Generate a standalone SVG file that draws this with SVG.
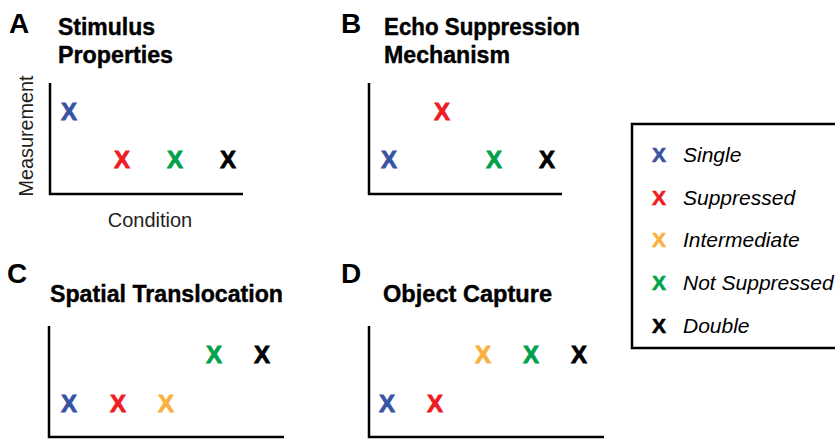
<svg xmlns="http://www.w3.org/2000/svg" width="835" height="439" viewBox="0 0 835 439">
<style>
.lbl{font-family:"Liberation Sans",Arial,sans-serif;font-weight:bold;font-size:28px;fill:#000}
.ttl{font-family:"Liberation Sans",Arial,sans-serif;font-weight:bold;font-size:23px;fill:#000;stroke:#000;stroke-width:0.4}
.ax{font-family:"Liberation Sans",Arial,sans-serif;font-size:20px;fill:#231f20}
.x{font-family:"Liberation Sans",Arial,sans-serif;font-weight:bold;font-size:24px;text-anchor:middle;stroke-width:0.8}
.lx{font-family:"Liberation Sans",Arial,sans-serif;font-weight:bold;font-size:21px;text-anchor:middle;stroke-width:0.6}
.li{font-family:"Liberation Sans",Arial,sans-serif;font-style:italic;font-size:21px;fill:#000}
.axis{fill:none;stroke:#000;stroke-width:2.5}
.b{fill:#3953a4;stroke:#3953a4}.r{fill:#ed1c24;stroke:#ed1c24}.o{fill:#fbb040;stroke:#fbb040}.g{fill:#00a14b;stroke:#00a14b}.k{fill:#000;stroke:#000}
</style>
<rect width="835" height="439" fill="#fff"/>
<g id="panelA">
<text class="lbl" x="9" y="33">A</text>
<text class="ttl" x="58" y="35" textLength="97" lengthAdjust="spacingAndGlyphs">Stimulus</text>
<text class="ttl" x="58" y="63" textLength="115" lengthAdjust="spacingAndGlyphs">Properties</text>
<path class="axis" d="M50,83 V194 H243"/>
<text class="ax" transform="translate(33,136) rotate(-90)" text-anchor="middle" textLength="121" lengthAdjust="spacingAndGlyphs">Measurement</text>
<text class="ax" x="150" y="227" text-anchor="middle">Condition</text>
<text class="x b" x="69" y="120">X</text>
<text class="x r" x="122" y="168">X</text>
<text class="x g" x="175" y="168">X</text>
<text class="x k" x="228" y="168">X</text>
</g>
<g id="panelB">
<text class="lbl" x="341" y="33">B</text>
<text class="ttl" x="384" y="35" textLength="196" lengthAdjust="spacingAndGlyphs">Echo Suppression</text>
<text class="ttl" x="384" y="63" textLength="126" lengthAdjust="spacingAndGlyphs">Mechanism</text>
<path class="axis" d="M369,83 V194 H562"/>
<text class="x b" x="389" y="168">X</text>
<text class="x r" x="442" y="120">X</text>
<text class="x g" x="494" y="168">X</text>
<text class="x k" x="547" y="168">X</text>
</g>
<g id="panelC">
<text class="lbl" x="7" y="283">C</text>
<text class="ttl" x="50" y="302" textLength="233" lengthAdjust="spacingAndGlyphs">Spatial Translocation</text>
<path class="axis" d="M49,326 V437 H284"/>
<text class="x b" x="69" y="412">X</text>
<text class="x r" x="118" y="412">X</text>
<text class="x o" x="166" y="412">X</text>
<text class="x g" x="214" y="363">X</text>
<text class="x k" x="262" y="363">X</text>
</g>
<g id="panelD">
<text class="lbl" x="341" y="283">D</text>
<text class="ttl" x="383" y="302" textLength="169" lengthAdjust="spacingAndGlyphs">Object Capture</text>
<path class="axis" d="M369,326 V437 H604"/>
<text class="x b" x="387" y="412">X</text>
<text class="x r" x="435" y="412">X</text>
<text class="x o" x="483" y="363">X</text>
<text class="x g" x="531" y="363">X</text>
<text class="x k" x="579" y="363">X</text>
</g>
<g id="legend">
<rect x="632" y="124" width="230" height="224" fill="none" stroke="#000" stroke-width="2.5"/>
<text class="lx b" x="659" y="162">X</text><text class="li" x="683" y="162">Single</text>
<text class="lx r" x="659" y="205">X</text><text class="li" x="683" y="205">Suppressed</text>
<text class="lx o" x="659" y="247">X</text><text class="li" x="683" y="247">Intermediate</text>
<text class="lx g" x="659" y="290">X</text><text class="li" x="683" y="290">Not Suppressed</text>
<text class="lx k" x="659" y="333">X</text><text class="li" x="683" y="333">Double</text>
</g>
</svg>
